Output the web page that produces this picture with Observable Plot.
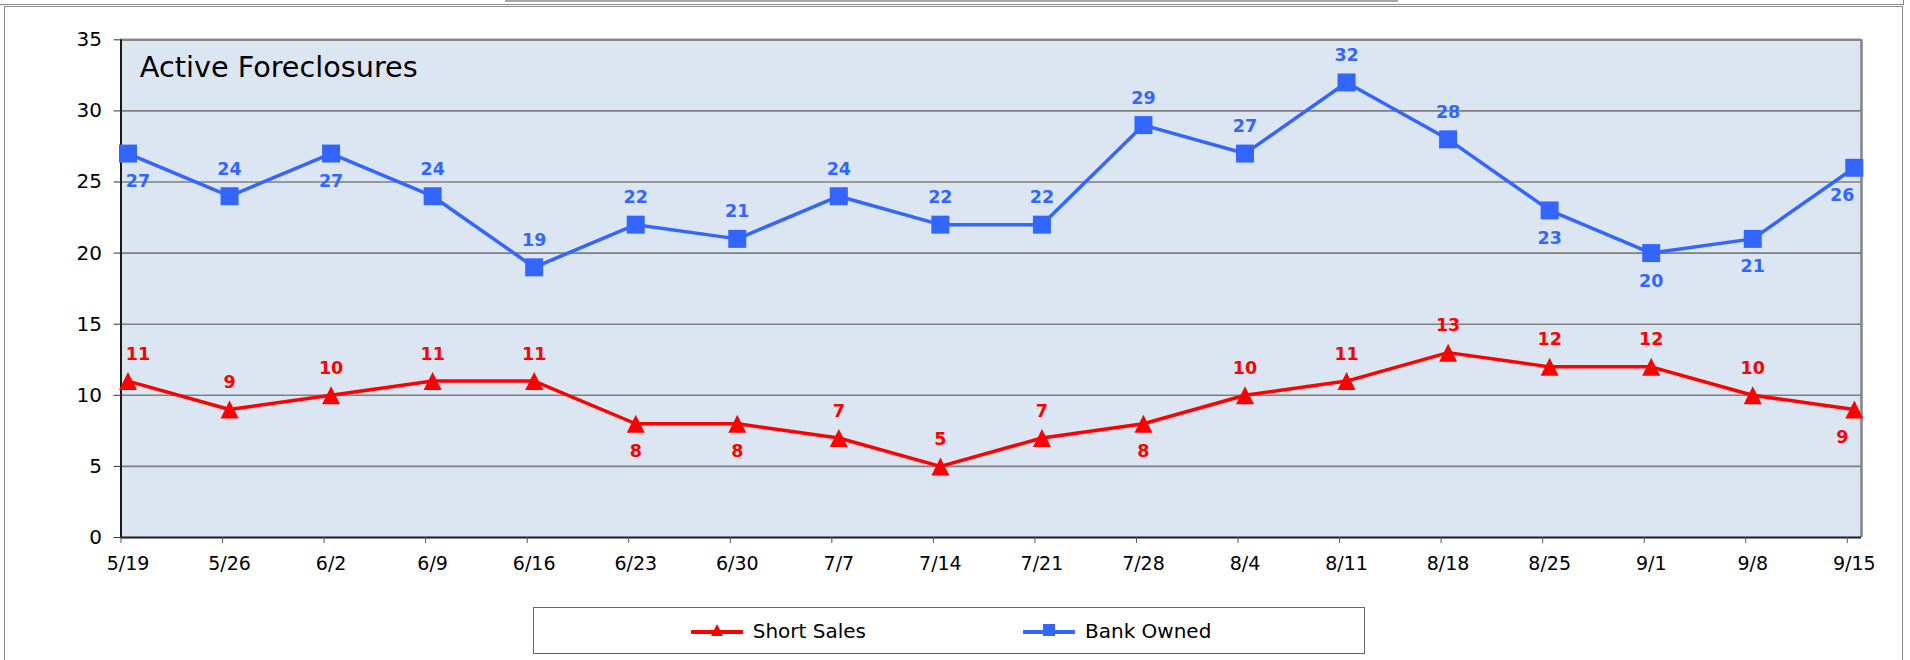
<!DOCTYPE html>
<html>
<head>
<meta charset="utf-8">
<script src="https://cdn.jsdelivr.net/npm/d3@7"></script>
<script src="https://cdn.jsdelivr.net/npm/@observablehq/plot@0.6"></script>
<style>
  html, body { margin: 0; padding: 0; background: #fff; overflow: hidden; }
  #page { position: relative; width: 1910px; height: 660px; font-family: "DejaVu Sans", sans-serif; }
  #prevbar { position: absolute; left: 505px; top: 0; width: 893px; height: 1.5px; background: #a8a8a8; }
  #prevbox { position: absolute; left: -2px; top: -10px; width: 1904px; height: 13px; border: 1px solid #8a8a8a; }
  #outer { position: absolute; left: 4px; top: 5.5px; width: 1897px; height: 700px; border: 1px solid #8a8a8a; }
  #chart { position: absolute; left: 0; top: 0; }
  #legend { position: absolute; left: 533px; top: 607px; width: 830px; height: 45px; border: 1px solid #666; background: #fff; }
  .lg { position: absolute; top: 0; height: 45px; display: flex; align-items: center; font-size: 20px; color: #000; white-space: nowrap; }
  .sw { position: absolute; top: 16px; }
</style>
</head>
<body>
<div id="page">
  <div id="prevbox"></div>
  <div id="prevbar"></div>
  <div id="outer"></div>
  <div id="chart"></div>
  <div id="legend"></div>
</div>
<script>
// ---- data ----
const dates = ["5/19","5/26","6/2","6/9","6/16","6/23","6/30","7/7","7/14","7/21","7/28","8/4","8/11","8/18","8/25","9/1","9/8","9/15"];
const shortSales = [11, 9, 10, 11, 11, 8, 8, 7, 5, 7, 8, 10, 11, 13, 12, 12, 10, 9];
const bankOwned  = [27, 24, 27, 24, 19, 22, 21, 24, 22, 22, 29, 27, 32, 28, 23, 20, 21, 26];
const yTicks = [0, 5, 10, 15, 20, 25, 30, 35];
const seriesNames = ["Short Sales", "Bank Owned"];
const chartTitle = "Active Foreclosures";

// label placement (below the marker)
const shortBelow = new Set(["6/23", "6/30", "7/28", "9/15"]);
const bankBelow  = new Set(["5/19", "6/2", "8/25", "9/1", "9/8", "9/15"]);

const RED = "#ff0000", BLUE = "#3366ff";
const n = dates.length;

const shortRows = dates.map((d, i) => ({i, date: d, value: shortSales[i], below: shortBelow.has(d)}));
const bankRows  = dates.map((d, i) => ({i, date: d, value: bankOwned[i], below: bankBelow.has(d)}));

// centred marker shapes
const triangle = {draw(ctx, size) { const s = Math.sqrt(size); ctx.moveTo(0, -s/2); ctx.lineTo(s/2, s/2); ctx.lineTo(-s/2, s/2); ctx.closePath(); }};
const square = {draw(ctx, size) { const s = Math.sqrt(size); ctx.rect(-s/2, -s/2, s, s); }};
const rMark = 18 / Math.sqrt(Math.PI);

const xMax = 17.14;
const shift = 7;

// value labels: above or below, nudged inward at the two ends of the plot
function valueLabels(rows, color) {
  const groups = [
    {edge: r => r.i === 0, dx: shift + 10},
    {edge: r => r.i === n - 1, dx: shift - 12},
    {edge: r => r.i > 0 && r.i < n - 1, dx: shift}
  ];
  const out = [];
  for (const g of groups) {
    for (const below of [false, true]) {
      const data = rows.filter(r => g.edge(r) && r.below === below);
      if (!data.length) continue;
      out.push(Plot.text(data, {
        x: "i", y: "value", text: d => String(d.value),
        fill: color, fontWeight: "bold", fontSize: 17.5,
        dx: g.dx, dy: below ? 28 : -27, lineAnchor: "middle"
      }));
    }
  }
  return out;
}

const chart = Plot.plot({
  width: 1910,
  height: 600,
  marginLeft: 120.5,
  marginRight: 1910 - 1861,
  marginTop: 39.3,
  marginBottom: 600 - 537,
  x: {type: "linear", domain: [0, xMax]},
  y: {domain: [0, 35]},
  style: {fontFamily: "DejaVu Sans, sans-serif", background: "transparent", overflow: "visible"},
  marks: [
    Plot.frame({fill: "#dce6f2", stroke: "none"}),
    Plot.gridY(yTicks.filter(v => v > 0 && v < 35), {stroke: "#7f7f7f", strokeOpacity: 1, strokeWidth: 1.6}),
    Plot.ruleY([35], {stroke: "#878787", strokeWidth: 2.6}),
    Plot.ruleX([xMax], {stroke: "#878787", strokeWidth: 2.6}),
    Plot.ruleX([0], {stroke: "#1a1a1a", strokeWidth: 2}),
    Plot.ruleY([0], {stroke: "#1a1a1a", strokeWidth: 2}),
    Plot.axisY({ticks: yTicks, tickSize: 7, tickPadding: 12, fontSize: 20, stroke: "#333", fill: "#000", label: null}),
    Plot.axisX({ticks: d3.range(n), tickSize: 6, tickFormat: () => "", stroke: "#555", label: null}),
    Plot.axisX({ticks: d3.range(n), tickSize: 0, tickPadding: 19, tickFormat: i => dates[i], fontSize: 19, dx: shift, fill: "#000", label: null}),
    Plot.text([chartTitle], {frameAnchor: "top-left", lineAnchor: "bottom", dx: 18.8, dy: 36.7, fontSize: 28.7, fill: "#000"}),
    // Short Sales
    Plot.line(shortRows, {x: "i", y: "value", stroke: RED, strokeWidth: 3.5, dx: shift}),
    Plot.dot(shortRows, {x: "i", y: "value", symbol: triangle, r: rMark, fill: RED, stroke: "none", dx: shift}),
    ...valueLabels(shortRows, RED),
    // Bank Owned
    Plot.line(bankRows, {x: "i", y: "value", stroke: BLUE, strokeWidth: 3.5, dx: shift}),
    Plot.dot(bankRows, {x: "i", y: "value", symbol: square, r: rMark, fill: BLUE, stroke: "none", dx: shift}),
    ...valueLabels(bankRows, BLUE)
  ]
});
document.getElementById("chart").append(chart);

// ---- legend (below / over the bottom of the SVG) ----
const legend = document.getElementById("legend");
const legendItems = [
  {name: seriesNames[0], color: RED, shape: "tri", sw: 691 - 534, tx: 752.7 - 534},
  {name: seriesNames[1], color: BLUE, shape: "sq", sw: 1023 - 534, tx: 1085 - 534}
];
for (const it of legendItems) {
  const marker = it.shape === "tri"
    ? `<path d="M26,6 L32,18 L20,18 Z" fill="${it.color}"/>`
    : `<rect x="20" y="6" width="12" height="12" fill="${it.color}"/>`;
  const sw = document.createElement("div");
  sw.className = "sw";
  sw.style.left = it.sw + "px";
  sw.style.top = "10px";
  sw.innerHTML = `<svg width="52" height="24"><line x1="1" y1="14" x2="51" y2="14" stroke="${it.color}" stroke-width="4" stroke-linecap="round"/>${marker}</svg>`;
  legend.appendChild(sw);
  const tx = document.createElement("div");
  tx.className = "lg";
  tx.style.left = it.tx + "px";
  tx.textContent = it.name;
  legend.appendChild(tx);
}
</script>
</body>
</html>
